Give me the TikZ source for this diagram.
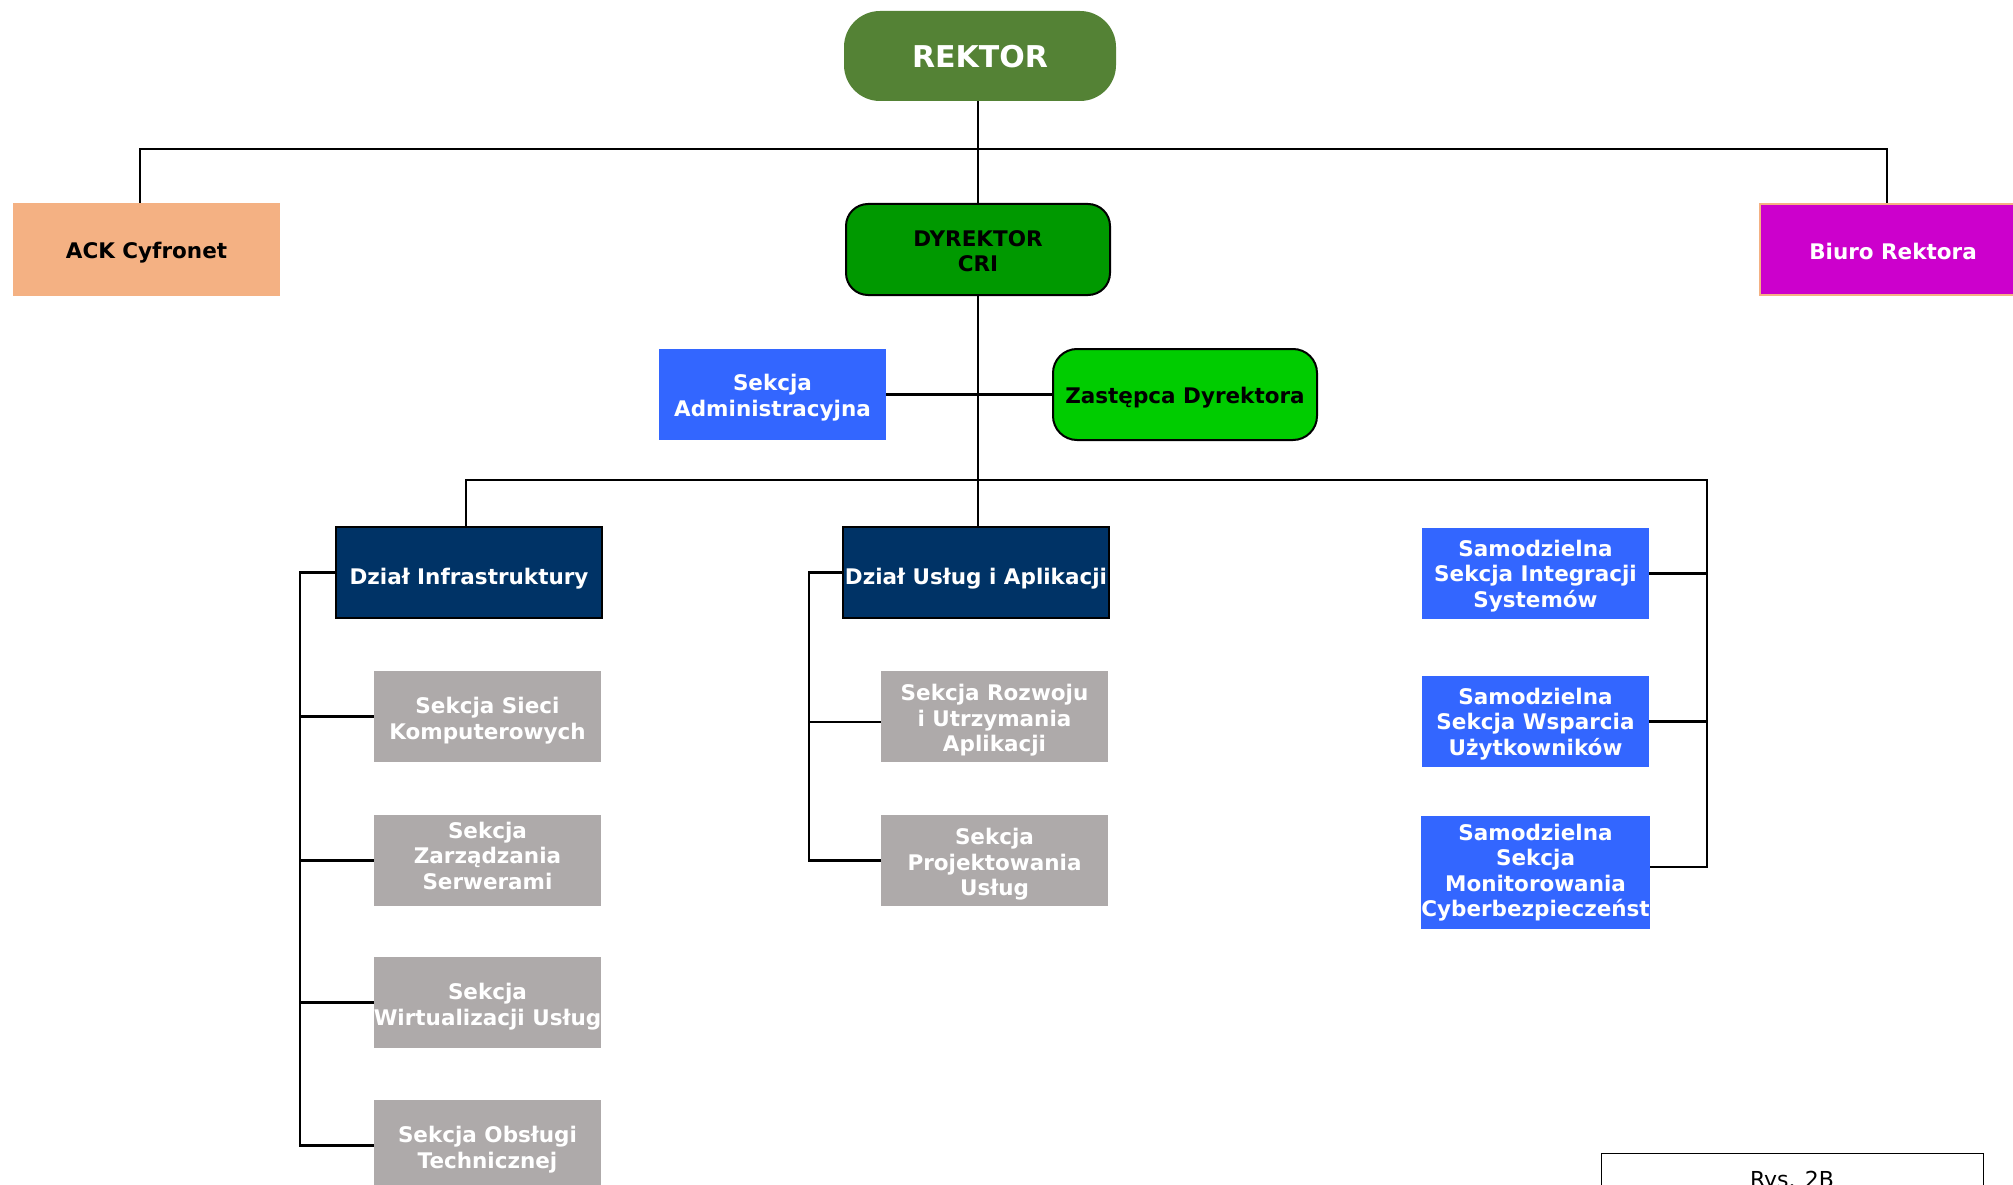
\documentclass[tikz,border=0pt]{standalone}
\usepackage{fontspec}
\newfontfamily\dvs{DejaVu Sans}
\definecolor{rekt}{HTML}{548235}
\definecolor{dyrc}{HTML}{009900}
\definecolor{zastc}{HTML}{00CC00}
\definecolor{ackc}{HTML}{F4B183}
\definecolor{biuroc}{HTML}{CC00CC}
\definecolor{bluec}{HTML}{3366FF}
\definecolor{navyc}{HTML}{003366}
\definecolor{grayc}{HTML}{AEAAAA}
\newcommand\lift[1]{\rule{0pt}{\dimexpr 16.5pt+2\dimexpr #1\relax\relax}}
\newcommand\sink[1]{\rule[-#1]{0pt}{#1}}
\begin{document}
\begin{tikzpicture}[x=1pt,y=-1pt,
  box/.style={inner sep=0pt, align=center, font=\dvs\bfseries\fontsize{21.5}{25.5}\selectfont, minimum width=227pt, minimum height=91pt},
  wbox/.style={box, minimum width=266pt},
  graybox/.style={box, fill=grayc, text=white},
  bluebox/.style={box, fill=bluec, text=white},
  navybox/.style={wbox, fill=navyc, text=white, draw=black, line width=2.5pt},
  conn/.style={line width=2.7pt, black, line join=miter},
]
\useasboundingbox (0,0) rectangle (2013,1185);
\clip (0,0) rectangle (2013,1185);
\fill[white] (0,0) rectangle (2013,1185);

% top level
\node[box, fill=rekt, text=white, minimum width=272pt, minimum height=90pt, rounded corners=36pt,
      font=\dvs\bfseries\fontsize{30}{34}\selectfont] (rektor) at (980,56) {\rule{0pt}{23pt}REKTOR};
\node[box, fill=ackc, text=black, minimum width=267pt, minimum height=93pt] (ack) at (146.5,249.5) {\lift{3pt}ACK Cyfronet};
\node[box, fill=dyrc, text=black, draw=black, line width=2pt, minimum width=264pt, rounded corners=22pt] (dyr) at (978,249.5) {\lift{1.5pt}DYREKTOR\\CRI};
\node[box, fill=biuroc, text=white, draw=ackc, line width=2.5pt, minimum width=266pt] (biuro) at (1893,249.5) {\lift{1.5pt}Biuro Rektora};

% second level
\node[bluebox] (admin) at (772.5,394.5) {\lift{3pt}Sekcja\\Administracyjna};
\node[box, fill=zastc, text=black, draw=black, line width=2pt, minimum width=264pt, rounded corners=24pt] (zast) at (1185,394.5) {\lift{3pt}Zastępca Dyrektora};

% departments
\node[navybox] (infra) at (469,572.5) {\lift{6pt}Dział Infrastruktury};
\node[navybox] (uslug) at (976,572.5) {\lift{6pt}Dział Usług i Aplikacji};

\node[graybox] (sieci) at (487.5,716.5) {\lift{4pt}Sekcja Sieci\\Komputerowych};
\node[graybox] (zarz) at (487.5,860.5) {Sekcja\\Zarządzania\\Serwerami\sink{10pt}};
\node[graybox] (wirt) at (487.5,1002.5) {\lift{4pt}Sekcja\\Wirtualizacji Usług};
\node[graybox] (obsl) at (487.5,1145.5) {\lift{4pt}Sekcja Obsługi\\Technicznej};

\node[graybox] (rozw) at (994.5,716.5) {\lift{4pt}Sekcja Rozwoju\\i Utrzymania\\Aplikacji};
\node[graybox] (proj) at (994.5,860.5) {\lift{4pt}Sekcja\\Projektowania\\Usług};

\node[bluebox] (s1) at (1535.5,573.5) {\lift{2.5pt}Samodzielna\\Sekcja Integracji\\Systemów};
\node[bluebox] (s2) at (1535.5,721.5) {\lift{2.5pt}Samodzielna\\Sekcja Wsparcia\\Użytkowników};
\node[bluebox, minimum height=113pt] (s3) at (1535.5,872.5) {Samodzielna\\Sekcja\\Monitorowania\\Cyberbezpieczeńst};

% caption box
\node[draw=black, line width=1pt, minimum width=382pt, minimum height=80pt, anchor=north west, inner sep=0pt] (rys) at (1601,1153) {};
\node[font=\dvs\fontsize{22}{26}\selectfont, anchor=base, inner sep=0pt] (rystxt) at (1792,1187) {Rys. 2B};

% connectors
\coordinate (bL) at (140,149);
\coordinate (bR) at (1887,149);
\draw[conn] (rektor.south -| dyr.north) -- (dyr.north);
\draw[conn] (bL |- ack.north) -- (bL) -- (bR) -- (bR |- biuro.north);
\draw[conn] (dyr.south) -- (dyr.south |- uslug.north);
\draw[conn] (admin.east) -- (zast.west);

\coordinate (b2L) at (466,480);
\coordinate (b2R) at (1707,480);
\coordinate (s3c) at (1707,867);
\draw[conn] (b2L |- infra.north) -- (b2L) -- (b2R) -- (s3c) -- (s3c -| s3.east);
\draw[conn] (s1.east) -- (s1.east -| b2R);
\draw[conn] (s2.east) -- (s2.east -| b2R);

\coordinate (ib) at (300,573);
\draw[conn] (infra.west) -- (infra.west -| ib) -- (ib |- obsl.west) -- (obsl.west);
\draw[conn] (sieci.west -| ib) -- (sieci.west);
\draw[conn] (zarz.west -| ib) -- (zarz.west);
\draw[conn] (wirt.west -| ib) -- (wirt.west);

\coordinate (ub) at (809,573);
\coordinate (rozwc) at (809,722);
\draw[conn] (uslug.west) -- (uslug.west -| ub) -- (ub |- proj.west) -- (proj.west);
\draw[conn] (rozwc) -- (rozwc -| rozw.west);
\end{tikzpicture}
\end{document}
